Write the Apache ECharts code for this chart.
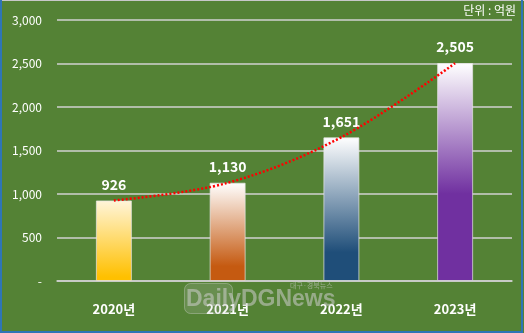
<!DOCTYPE html>
<html>
<head>
<meta charset="utf-8">
<script src="https://cdn.jsdelivr.net/npm/echarts@6/dist/echarts.min.js"></script>
<style>
html,body{margin:0;padding:0;background:#548235;}
#c{width:524px;height:333px;}
</style>
</head>
<body>
<div id="c"></div>
<script>
var categories = ['2020년', '2021년', '2022년', '2023년'];
var values = [926, 1130, 1651, 2505];
var trendValues = [926, 1128, 1653, 2504];
var yTicks = [0, 500, 1000, 1500, 2000, 2500, 3000];
var unitText = '단위 : 억원';
var barBottomColors = ['#FFC000', '#C55A11', '#1F4E79', '#7030A0'];
var barTopColors = ['#FFF5DA', '#FFFFFF', '#FFFFFF', '#FFFFFF'];
var barSolidStops = [0.95, 0.85, 0.8, 0.6];

var FONT = '"Noto Sans CJK KR", "Noto Sans", sans-serif';
function fmt(v) { return v === 0 ? '-' : v.toLocaleString('en-US'); }

var chart = echarts.init(document.getElementById('c'), null, {renderer: 'canvas'});
chart.setOption({
  backgroundColor: '#548235',
  animation: false,
  grid: {left: 57, right: 12, top: 20, bottom: 52},
  xAxis: {
    type: 'category',
    data: categories,
    axisLine: {show: true, lineStyle: {color: '#D0D0D0', width: 1.5}},
    axisTick: {show: false},
    axisLabel: {color: '#FFFFFF', fontFamily: FONT, fontWeight: 'bold', fontSize: 13, margin: 22}
  },
  yAxis: {
    type: 'value',
    min: yTicks[0],
    max: yTicks[yTicks.length - 1],
    interval: 500,
    axisLine: {show: false},
    axisTick: {show: false},
    splitLine: {lineStyle: {color: '#D0D0D0', width: 1.5}},
    axisLabel: {color: '#FFFFFF', fontFamily: FONT, fontSize: 12, margin: 15, formatter: fmt}
  },
  series: [
    {
      type: 'bar',
      barWidth: 36,
      data: values.map(function (v, i) {
        return {
          value: v,
          itemStyle: {
            borderColor: 'rgba(230,230,230,0.7)',
            borderWidth: 1,
            color: new echarts.graphic.LinearGradient(0, 0, 0, 1, [
              {offset: 0, color: barTopColors[i]},
              {offset: barSolidStops[i], color: barBottomColors[i]},
              {offset: 1, color: barBottomColors[i]}
            ])
          }
        };
      }),
      label: {
        show: true, position: 'top', distance: 9,
        color: '#FFFFFF', fontFamily: FONT, fontWeight: 'bold', fontSize: 14,
        formatter: function (p) { return fmt(p.value); }
      },
      z: 2
    },
    {
      type: 'line',
      data: trendValues,
      smooth: 0.35,
      symbol: 'none',
      lineStyle: {color: '#FF0000', width: 2.5, type: [2, 2]},
      z: 3
    }
  ],
  graphic: [
    {
      type: 'text', right: 8, top: 4,
      style: {text: unitText, fill: '#FFFFFF', font: '12px ' + FONT}
    },
    {
      type: 'rect', left: 184, top: 283, z: 10,
      shape: {width: 48, height: 30, r: 6},
      style: {fill: 'rgba(200,200,200,0.18)', stroke: 'rgba(220,220,220,0.35)', lineWidth: 1}
    },
    {
      type: 'text', left: 186, top: 288, z: 11,
      style: {text: 'DailyDGNews', fill: 'rgba(205,205,205,0.55)', font: 'bold 23px "Liberation Sans", sans-serif'}
    },
    {
      type: 'text', left: 290, top: 282, z: 11,
      style: {text: '대구·경북뉴스', fill: 'rgba(205,205,205,0.6)', font: '7px ' + FONT}
    },
    {
      type: 'line', z: 20, silent: true,
      shape: {x1: 0, y1: 0.5, x2: 524, y2: 0.5},
      style: {stroke: '#C8C8C8', lineWidth: 1}
    },
    {
      type: 'polyline', z: 20, silent: true,
      shape: {points: [[1, 0], [1, 332], [522, 332], [522, 0]]},
      style: {fill: 'none', stroke: '#2E75B6', lineWidth: 2}
    }
  ]
});
</script>
</body>
</html>
